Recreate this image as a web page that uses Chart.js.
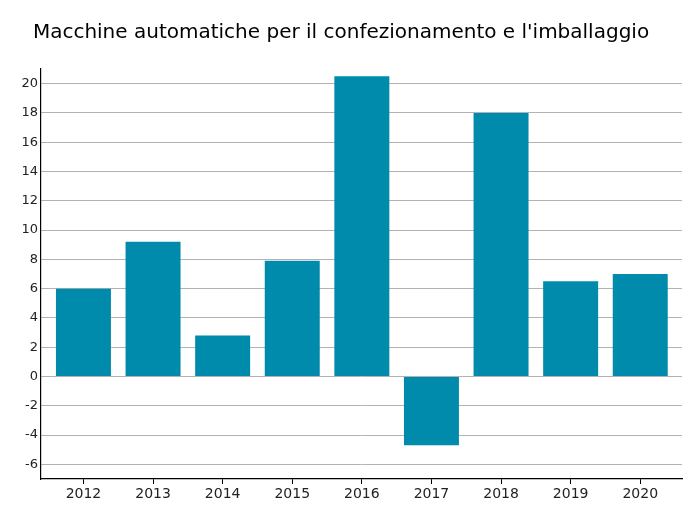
<!DOCTYPE html>
<html>
<head>
<meta charset="utf-8">
<script src="https://cdn.jsdelivr.net/npm/chart.js@4/dist/chart.umd.min.js"></script>
<style>
  html, body { margin: 0; padding: 0; background: #fff; }
  #wrap { width: 694px; height: 511px; }
</style>
</head>
<body>
<div id="wrap"><canvas id="barChart" width="694" height="511"></canvas></div>
<script>
const years = [2012, 2013, 2014, 2015, 2016, 2017, 2018, 2019, 2020];
const values = [6.0, 9.2, 2.8, 7.9, 20.5, -4.7, 18.0, 6.5, 7.0];
const yTicks = [-6, -4, -2, 0, 2, 4, 6, 8, 10, 12, 14, 16, 18, 20];
const chartTitle = "Macchine automatiche per il confezionamento e l'imballaggio";

Chart.defaults.font.family = "'DejaVu Sans', sans-serif";
Chart.defaults.color = '#222';

const ctx = document.getElementById('barChart').getContext('2d');
const barChart = new Chart(ctx, {
    type: 'bar',
    data: {
        datasets: [{
            data: years.map((yr, i) => ({ x: yr, y: values[i] })),
            backgroundColor: '#008bad',
            categoryPercentage: 1,
            barPercentage: 0.79
        }]
    },
    options: {
        responsive: false,
        animation: false,
        layout: { padding: { left: 0, right: 12, top: 0, bottom: 0 } },
        plugins: {
            legend: { display: false },
            tooltip: { enabled: false },
            title: {
                display: true,
                text: chartTitle,
                color: '#000',
                font: { size: 20, weight: 'normal' },
                padding: { top: 21, bottom: 24 }
            }
        },
        scales: {
            x: {
                type: 'linear',
                offset: false,
                min: 2011.39,
                max: 2020.6,
                grid: { display: true, offset: false, drawOnChartArea: false, drawTicks: true, tickLength: 5, color: '#000' },
                border: { color: '#000', width: 1.2 },
                ticks: {
                    font: { size: 14 },
                    padding: 2,
                    color: '#222',
                    callback: function(value) { return String(value); }
                },
                afterBuildTicks: function(scale) {
                    scale.ticks = years.map(v => ({ value: v }));
                },
                afterFit: function(scale) { scale.height = 32; }
            },
            y: {
                min: -7,
                max: 21,
                grid: { drawTicks: false, color: '#b3b3b3' },
                border: { color: '#000', width: 1.2 },
                ticks: { font: { size: 13 }, padding: 3, color: '#222' },
                afterBuildTicks: function(scale) {
                    scale.ticks = yTicks.map(v => ({ value: v }));
                },
                afterFit: function(scale) { scale.width = 41; }
            }
        }
    }
});
</script>
</body>
</html>
